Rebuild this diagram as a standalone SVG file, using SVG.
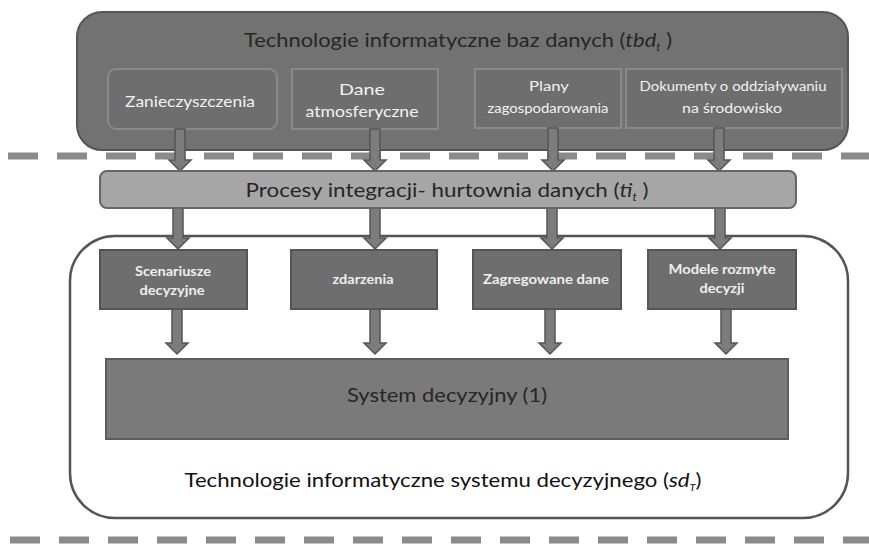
<svg xmlns="http://www.w3.org/2000/svg" width="869" height="544" viewBox="0 0 869 544">
<style>
text{font-family:"Lato","Open Sans","Liberation Sans",sans-serif;text-anchor:middle}
.big{font-size:20px;fill:#262626}
.wt{font-size:13px;fill:#f2f2f2}
.wt15{font-size:16px;fill:#f2f2f2}
.wtb{font-size:12.5px;fill:#eeeeee;font-weight:bold}
.box1{fill:#6e6e6e;stroke:#8a8a8a;stroke-width:2}
.box2{fill:#6e6e6e;stroke:#555;stroke-width:2}
.dash{stroke:#8a8a8a;stroke-width:7;stroke-dasharray:30 19}
.arr{fill:#7c7c7c;stroke:#555;stroke-width:1.5}
</style>
<g id="dashes">
<line class="dash" x1="8" y1="156" x2="869" y2="156"/>
<line class="dash" x1="10" y1="540" x2="869" y2="540"/>
</g>
<g id="tbd">
<rect x="77" y="12" width="771" height="138" rx="25" fill="#727272" stroke="#555" stroke-width="2"/>
<text class="big" x="458" y="47" textLength="428" lengthAdjust="spacingAndGlyphs">Technologie informatyczne baz danych (<tspan font-style="italic">tbd</tspan><tspan font-size="11" dy="4" font-style="italic">t</tspan><tspan dy="-4"> )</tspan></text>
</g>
<g id="n1">
<rect class="box1" x="108" y="69" width="169" height="60" rx="8"/>
<text class="wt15" x="190" y="107" textLength="130" lengthAdjust="spacingAndGlyphs">Zanieczyszczenia</text>
</g>
<g id="n2">
<rect class="box1" x="292" y="69" width="146" height="60"/>
<text class="wt15" x="362" y="95" textLength="46" lengthAdjust="spacingAndGlyphs">Dane</text>
<text class="wt15" x="362" y="117" textLength="113" lengthAdjust="spacingAndGlyphs">atmosferyczne</text>
</g>
<g id="n3">
<rect class="box1" x="475" y="69" width="146" height="59"/>
<text class="wt" x="549" y="91" textLength="40" lengthAdjust="spacingAndGlyphs">Plany</text>
<text class="wt" x="548" y="113" textLength="121" lengthAdjust="spacingAndGlyphs">zagospodarowania</text>
</g>
<g id="n4">
<rect class="box1" x="626" y="69" width="216" height="59"/>
<text class="wt" x="733" y="91" textLength="187" lengthAdjust="spacingAndGlyphs">Dokumenty  o oddziaływaniu</text>
<text class="wt" x="732" y="113" textLength="100" lengthAdjust="spacingAndGlyphs">na środowisko</text>
</g>
<g id="sd">
<rect x="70" y="236" width="778" height="282" rx="45" fill="#ffffff" stroke="#555" stroke-width="2.5"/>
<text class="big" x="443" y="487" style="fill:#111" font-size="18" textLength="517" lengthAdjust="spacingAndGlyphs">Technologie informatyczne systemu decyzyjnego (<tspan font-style="italic">sd</tspan><tspan font-size="10" dy="4" font-style="italic">T</tspan><tspan dy="-4">)</tspan></text>
</g>
<g id="connectors">
<path class="arr" d="M175,129 H185 V160 H191 L180,171 L169,160 H175 Z"/>
<path class="arr" d="M370,129 H380 V160 H386 L375,171 L364,160 H370 Z"/>
<path class="arr" d="M548,128 H558 V160 H564 L553,171 L542,160 H548 Z"/>
<path class="arr" d="M714,128 H724 V160 H730 L719,171 L708,160 H714 Z"/>
<path class="arr" d="M173,208 H183 V238 H189 L178,249 L167,238 H173 Z"/>
<path class="arr" d="M370,208 H380 V238 H386 L375,249 L364,238 H370 Z"/>
<path class="arr" d="M547,208 H557 V238 H563 L552,249 L541,238 H547 Z"/>
<path class="arr" d="M715,208 H725 V238 H731 L720,249 L709,238 H715 Z"/>
<path class="arr" d="M172,309 H182 V343 H188 L177,354 L166,343 H172 Z"/>
<path class="arr" d="M370,309 H380 V343 H386 L375,354 L364,343 H370 Z"/>
<path class="arr" d="M545,309 H555 V343 H561 L550,354 L539,343 H545 Z"/>
<path class="arr" d="M721,309 H731 V343 H737 L726,354 L715,343 H721 Z"/>
</g>
<g id="ti">
<rect x="100" y="171" width="696" height="37" rx="7" fill="#a6a6a6" stroke="#666" stroke-width="2"/>
<text class="big" x="447" y="197" textLength="403" lengthAdjust="spacingAndGlyphs">Procesy integracji- hurtownia danych (<tspan font-style="italic">ti</tspan><tspan font-size="11" dy="4" font-style="italic">t</tspan><tspan dy="-4"> )</tspan></text>
</g>
<g id="m1">
<rect class="box2" x="100" y="250" width="147" height="59"/>
<text class="wtb" x="173" y="276" textLength="76" lengthAdjust="spacingAndGlyphs">Scenariusze</text>
<text class="wtb" x="172" y="295" textLength="65" lengthAdjust="spacingAndGlyphs">decyzyjne</text>
</g>
<g id="m2">
<rect class="box2" x="291" y="250" width="146" height="59"/>
<text class="wtb" x="363" y="284" textLength="61" lengthAdjust="spacingAndGlyphs">zdarzenia</text>
</g>
<g id="m3">
<rect class="box2" x="473" y="250" width="148" height="59"/>
<text class="wtb" x="546" y="284" textLength="126" lengthAdjust="spacingAndGlyphs">Zagregowane dane</text>
</g>
<g id="m4">
<rect class="box2" x="648" y="250" width="148" height="59"/>
<text class="wtb" x="722" y="274" textLength="107" lengthAdjust="spacingAndGlyphs">Modele rozmyte</text>
<text class="wtb" x="722" y="293" textLength="45" lengthAdjust="spacingAndGlyphs">decyzji</text>
</g>
<g id="system">
<rect x="106" y="359" width="682" height="80" fill="#7a7a7a" stroke="#5c5c5c" stroke-width="2"/>
<text class="big" x="447" y="402" textLength="200" lengthAdjust="spacingAndGlyphs">System decyzyjny (1)</text>
</g>
</svg>
